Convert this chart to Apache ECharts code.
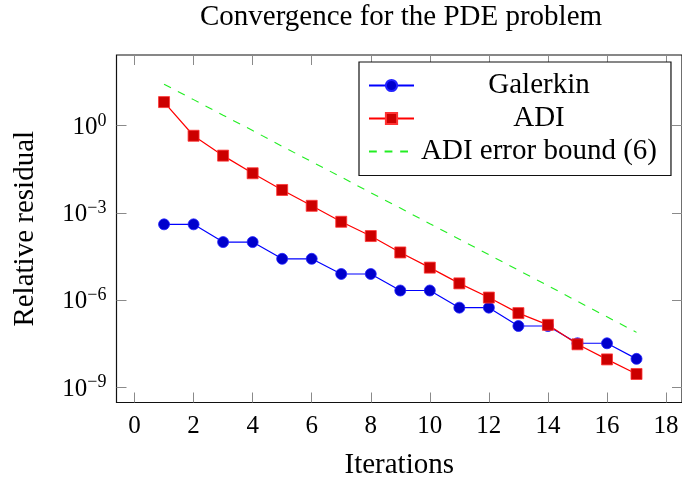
<!DOCTYPE html>
<html><head><meta charset="utf-8">
<script src="https://cdn.jsdelivr.net/npm/echarts@6/dist/echarts.min.js"></script>
<style>html,body{margin:0;padding:0;background:#fff}#c{width:682px;height:478px}</style>
</head><body><div id="c"></div>
<script>
const iterations = [1,2,3,4,5,6,7,8,9,10,11,12,13,14,15,16,17];
const galerkin = [4.0e-4,4.0e-4,9.8e-5,9.8e-5,2.6e-5,2.6e-5,7.8e-6,7.8e-6,2.1e-6,2.1e-6,5.4e-7,5.4e-7,1.26e-7,1.26e-7,3.2e-8,3.2e-8,9.3e-9];
const adi = [6.5,0.45,0.093,0.023,6.1e-3,1.74e-3,4.9e-4,1.58e-4,4.3e-5,1.29e-5,3.7e-6,1.2e-6,3.5e-7,1.38e-7,2.95e-8,8.9e-9,2.8e-9];
const adiBound = [26.9,7.9,2.3,0.68,0.195,0.0575,0.017,4.9e-3,1.45e-3,4.2e-4,1.23e-4,3.6e-5,1.05e-5,3.1e-6,8.9e-7,2.6e-7,7.6e-8];
const seriesNames = ['Galerkin','ADI','ADI error bound (6)'];
const xTickValues = [0,2,4,6,8,10,12,14,16,18];
const yTickExponents = [-9,-6,-3,0];
const titleText = 'Convergence for the PDE problem';
const xLabel = 'Iterations';
const yLabel = 'Relative residual';

const FONT = 'Liberation Serif';
const TXT = 29;
const toLog = arr => iterations.map((x,i) => [x, Math.log10(arr[i])]);
const X_MIN = -0.61, X_MAX = 18.54, Y_MIN = -9.535, Y_MAX = 2.435;
const tickStyle = {show:true, inside:true, length:10, lineStyle:{color:'#8a8a8a', width:1}};
const noLine = {show:false, onZero:false};

const chart = echarts.init(document.getElementById('c'), null, {renderer:'canvas'});
chart.setOption({
  animation:false,
  backgroundColor:'#fff',
  textStyle:{fontFamily:FONT, color:'#000'},
  graphic:[{type:'text', x:401, y:3, style:{text:titleText, font:TXT + 'px "Liberation Serif"', fill:'#000', align:'center', verticalAlign:'top'}}],
  grid:{left:116.5, top:55, width:565.5, height:347.5, show:true, borderColor:'#111', borderWidth:1.2, containLabel:false, outerBoundsMode:'none'},
  legend:{
    orient:'vertical', left:359, top:62, selectedMode:false,
    data:[{name:seriesNames[0]},{name:seriesNames[1]},{name:seriesNames[2], itemStyle:{opacity:0, borderWidth:0}}],
    itemWidth:45, itemHeight:14, itemGap:4,
    padding:[9,14,9.5,9],
    backgroundColor:'#fff', borderColor:'#111', borderWidth:1.2,
    formatter: n => '{t|' + n + '}',
    textStyle:{fontFamily:FONT, color:'#000', rich:{t:{width:240, align:'center', fontSize:TXT, fontFamily:FONT, color:'#000'}}}
  },
  xAxis:[
    {type:'value', min:X_MIN, max:X_MAX, position:'bottom',
     axisLine:noLine, splitLine:{show:false},
     axisTick:Object.assign({customValues:xTickValues}, tickStyle),
     axisLabel:{customValues:xTickValues, fontSize:25, fontFamily:FONT, color:'#000', margin:11},
     name:xLabel, nameLocation:'middle', nameGap:48, nameTextStyle:{fontSize:TXT, fontFamily:FONT, color:'#000'}},
    {type:'value', min:X_MIN, max:X_MAX, position:'top',
     axisLine:noLine, splitLine:{show:false}, axisLabel:{show:false},
     axisTick:Object.assign({customValues:xTickValues}, tickStyle)}
  ],
  yAxis:[
    {type:'value', min:Y_MIN, max:Y_MAX, position:'left',
     axisLine:noLine, splitLine:{show:false},
     axisTick:Object.assign({customValues:yTickExponents}, tickStyle),
     axisLabel:{customValues:yTickExponents, margin:10,
       formatter: v => '{b|10}{e|' + (v === 0 ? '0' : '\u2212' + Math.abs(v)) + '}',
       rich:{b:{fontSize:25, fontFamily:FONT, color:'#000', lineHeight:27, padding:[4,0,0,0]},
             e:{fontSize:18, fontFamily:FONT, color:'#000', verticalAlign:'top', lineHeight:18}}},
     name:yLabel, nameLocation:'middle', nameGap:77, nameRotate:90, nameTextStyle:{fontSize:TXT, fontFamily:FONT, color:'#000'}},
    {type:'value', min:Y_MIN, max:Y_MAX, position:'right',
     axisLine:noLine, splitLine:{show:false}, axisLabel:{show:false},
     axisTick:Object.assign({customValues:yTickExponents}, tickStyle)}
  ],
  series:[
    {name:seriesNames[0], type:'line', xAxisIndex:0, yAxisIndex:0, data:toLog(galerkin),
     symbol:'circle', symbolSize:11, lineStyle:{color:'#0000ff', width:1.2},
     itemStyle:{color:'#0000cc', borderColor:'#2222ff', borderWidth:0.8}},
    {name:seriesNames[1], type:'line', xAxisIndex:0, yAxisIndex:0, data:toLog(adi),
     symbol:'rect', symbolSize:11, lineStyle:{color:'#ff0000', width:1.2},
     itemStyle:{color:'#cc0000', borderColor:'#ff3333', borderWidth:0.8}},
    {name:seriesNames[2], type:'line', xAxisIndex:0, yAxisIndex:0, data:toLog(adiBound),
     symbol:'none', showSymbol:false, lineStyle:{color:'#22ee22', width:1.1, type:[7.8,7.8]},
     itemStyle:{color:'#22ee22'}}
  ]
});
</script></body></html>
